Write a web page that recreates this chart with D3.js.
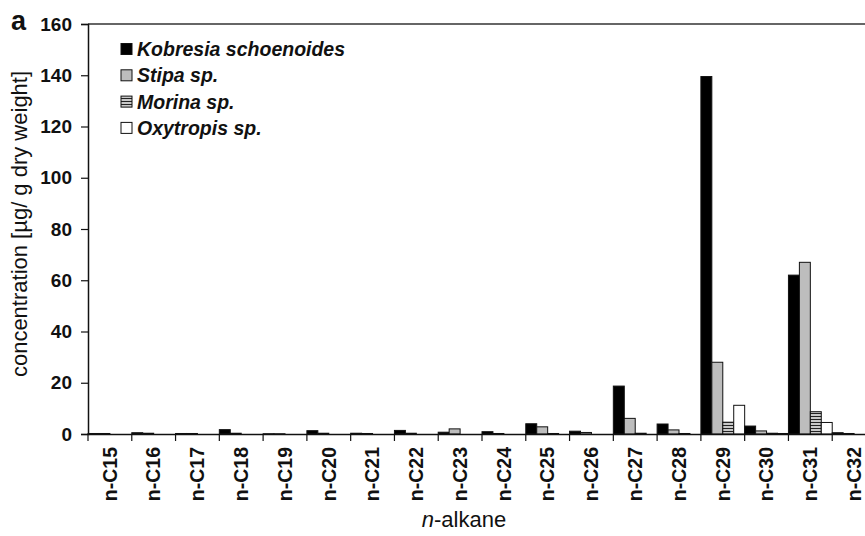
<!DOCTYPE html>
<html><head><meta charset="utf-8">
<script src="https://cdn.jsdelivr.net/npm/d3@7"></script>
<style>body{margin:0;background:#fff}svg{display:block;font-family:"Liberation Sans",Arial,sans-serif}</style>
</head><body>
<script>
const categories = ["n-C15","n-C16","n-C17","n-C18","n-C19","n-C20","n-C21","n-C22","n-C23","n-C24","n-C25","n-C26","n-C27","n-C28","n-C29","n-C30","n-C31","n-C32"];
const seriesNames = ["Kobresia schoenoides","Stipa sp.","Morina sp.","Oxytropis sp."];
const kobresia  = [0.2,0.5,0.2,1.7,0.1,1.3,0.3,1.4,0.7,0.9,4.0,1.1,18.7,3.9,139.5,3.1,62.0,0.5];
const stipa     = [0.2,0.3,0.2,0.3,0.1,0.3,0.2,0.3,2.0,0.2,2.8,0.6,6.1,1.6,28.0,1.2,67.0,0.2];
const morina    = [0,0,0,0,0,0,0,0,0,0,0.2,0,0.3,0.2,4.6,0.3,8.7,0];
const oxytropis = [0,0,0,0,0,0,0,0,0,0,0,0,0,0,11.2,0.2,4.5,0];
const yTicks = [0,20,40,60,80,100,120,140,160];

(function(){
const W=865,H=536;
const FF="Liberation Sans, Arial, sans-serif";
const svg=d3.select("body").append("svg").attr("width",W).attr("height",H);
const defs=svg.append("defs");
const pat=defs.append("pattern").attr("id","stripes").attr("patternUnits","userSpaceOnUse").attr("width",6).attr("height",3);
pat.append("rect").attr("width",6).attr("height",3).attr("fill","#c8c8c8");
pat.append("rect").attr("y",2).attr("width",6).attr("height",1).attr("fill","#222");

const fills=["#000","#bdbdbd","url(#stripes)","#fff"];
const mLeft=88, mTop=24, mBottom=434, mRight=876;
const x=d3.scaleBand().domain(categories).range([mLeft,mRight]).padding(0);
const xs=d3.scaleBand().domain(seriesNames).range([0,x.bandwidth()]).padding(0);
const y=d3.scaleLinear().domain([0,160]).range([mBottom,mTop]);

const data=categories.map((c,i)=>({c,vals:[kobresia[i],stipa[i],morina[i],oxytropis[i]]}));

svg.append("line").attr("x1",mLeft).attr("x2",W).attr("y1",mTop).attr("y2",mTop).attr("stroke","#333").attr("stroke-width",1.5);

const g=svg.append("g");
data.forEach(d=>{
  d.vals.forEach((v,k)=>{
    if(v<=0) return;
    g.append("rect").attr("x",x(d.c)+xs(seriesNames[k])).attr("y",y(v))
     .attr("width",xs.bandwidth()).attr("height",mBottom-y(v))
     .attr("fill",fills[k]).attr("stroke","#111").attr("stroke-width",1);
  });
});

const ya=svg.append("g").attr("transform",`translate(${mLeft},0)`)
  .call(d3.axisLeft(y).tickValues(yTicks).tickSize(7).tickFormat(d3.format("d")));
ya.select(".domain").attr("stroke","#111").attr("stroke-width",1.5);
ya.selectAll(".tick line").attr("stroke","#111").attr("stroke-width",1.2);
ya.selectAll("text").attr("font-size",19).attr("font-weight","bold").attr("fill","#111")
  .attr("font-family",FF).attr("x",-16);

const xa=svg.append("g").attr("transform",`translate(0,${mBottom})`)
  .call(d3.axisBottom(x).tickSize(0).tickSizeOuter(0));
xa.select(".domain").attr("stroke","#111").attr("stroke-width",1.5);
xa.selectAll("text").attr("font-size",19.5).attr("font-weight","bold").attr("fill","#111")
  .attr("font-family",FF)
  .attr("transform","rotate(-90)").attr("text-anchor","end").attr("x",-13).attr("y",0).attr("dy","0.35em");
const bounds=categories.map(c=>x(c));
svg.append("g").selectAll("line").data(bounds).join("line")
  .attr("x1",d=>d).attr("x2",d=>d).attr("y1",mBottom).attr("y2",mBottom+7)
  .attr("stroke","#111").attr("stroke-width",1.2);

const lg=svg.append("g");
seriesNames.forEach((n,i)=>{
  const yy=49+i*26.3;
  lg.append("rect").attr("x",121).attr("y",yy-5.5).attr("width",11).attr("height",11)
    .attr("fill",fills[i]).attr("stroke","#111").attr("stroke-width",1);
  lg.append("text").attr("x",137).attr("y",yy).attr("dy","0.36em")
    .attr("font-size",19.5).attr("font-weight","bold").attr("font-style","italic").attr("fill","#111").text(n);
});

svg.append("text").attr("x",11).attr("y",30).attr("font-size",27).attr("font-weight","bold").attr("fill","#111").text("a");

svg.append("text").attr("transform",`translate(27,224) rotate(-90)`).attr("text-anchor","middle")
  .attr("font-size",22).attr("fill","#111").text("concentration [µg/ g dry weight]");

const xt=svg.append("text").attr("x",464).attr("y",527).attr("text-anchor","middle").attr("font-size",22).attr("fill","#111");
xt.append("tspan").attr("font-style","italic").text("n");
xt.append("tspan").text("-alkane");
})();
</script>
</body></html>
